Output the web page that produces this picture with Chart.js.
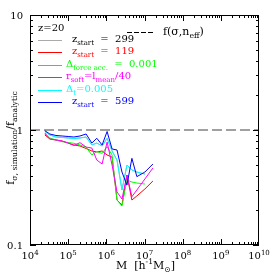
<!DOCTYPE html>
<html>
<head>
<meta charset="utf-8">
<script src="https://cdn.jsdelivr.net/npm/chart.js@4.4.0/dist/chart.umd.min.js"></script>
<style>
  html, body { margin: 0; padding: 0; background: #fff; }
  canvas { display: block; }
</style>
</head>
<body>
<canvas id="myChart" width="274" height="274"></canvas>
<script>
// log10 of halo mass bins [h^-1 Msun]
const logMass = [4.39, 4.52, 4.68, 4.84, 5.00, 5.15, 5.31, 5.47, 5.62, 5.75,
                 5.89, 6.02, 6.15, 6.28, 6.41, 6.54, 6.67, 6.80, 7.01, 7.22];

// f_sigma,simulation / f_analytic for each run
const fZ599 = [0.986, 0.923, 0.896, 0.887, 0.878, 0.869, 0.887, 0.923, 0.770, 0.847,
               0.741, 0.970, 0.684, 0.670, 0.431, 0.332, 0.567, 0.393, 0.431, 0.506];
const fDt = [0.970, 0.905, 0.869, 0.861, 0.852, 0.844, 0.852, 0.869, 0.741, 0.770,
             0.726, 0.847, 0.657, 0.548, 0.301, 0.496, 0.449, 0.431, 0.414, null];
const fSoft = [0.942, 0.835, 0.819, 0.802, 0.770, 0.733, 0.776, 0.711, 0.697, 0.548,
               0.506, 0.786, 0.496, 0.289, 0.251, 0.406, 0.263, 0.301, 0.375, 0.467];
const fForce = [0.923, 0.852, 0.819, 0.791, 0.779, 0.766, 0.741, 0.711, 0.606, 0.648,
                0.627, 0.716, 0.606, 0.246, 0.218, 0.367, 0.353, 0.346, 0.339, null];
const fZ119 = [0.905, 0.835, 0.819, 0.802, 0.770, 0.741, 0.726, 0.690, 0.657, 0.644,
               0.657, 0.606, 0.582, 0.246, 0.223, 0.406, 0.246, 0.267, 0.307, 0.360];
const fZ299 = [0.970, 0.905, 0.869, 0.861, 0.852, 0.844, 0.852, 0.869, 0.741, 0.770,
               0.726, 0.847, 0.657, 0.548, 0.301, 0.496, 0.449, 0.431, 0.414, null];

// reference f(sigma, n_eff) ratio line
const refMass = [1e4, 1e10];
const refRatio = [1, 1];

const xTicks = [4, 5, 6, 7, 8, 9, 10];
const yTicks = ['0.1', '1', '10'];

const FONT = '"DejaVu Serif", "Liberation Serif", serif';

function toPoints(ys) {
    return logMass.map((lm, i) => ({ x: Math.pow(10, lm), y: ys[i] }));
}

function series(ys, color) {
    return {
        data: toPoints(ys),
        borderColor: color,
        borderWidth: 1,
        pointRadius: 0,
        tension: 0,
        spanGaps: false,
    };
}

function richWidth(ctx, parts, base) {
    let w = 0;
    parts.forEach(p => {
        const size = p[1] ? base * 0.7 : base;
        ctx.font = size + 'px ' + FONT;
        w += ctx.measureText(p[0]).width;
    });
    return w;
}

function drawRich(ctx, parts, x, y, base, color) {
    let cx = x;
    parts.forEach(p => {
        let size = base, dy = 0;
        if (p[1] === 'sub') { size = base * 0.7; dy = base * 0.3; }
        if (p[1] === 'sup') { size = base * 0.7; dy = -base * 0.42; }
        ctx.font = size + 'px ' + FONT;
        ctx.fillStyle = color;
        ctx.fillText(p[0], cx, y + dy);
        cx += ctx.measureText(p[0]).width;
    });
    return cx - x;
}

const legendRows = [
    { line: '#aaaaaa', color: '#000000', x: 72, parts: [['z'], ['start', 'sub'], ['  =  299']] },
    { line: '#ff0000', color: '#ff0000', x: 72, parts: [['z'], ['start', 'sub'], ['  =  119']] },
    { line: '#00ff00', color: '#00ff00', x: 66, parts: [['Δ'], ['force acc.', 'sub'], ['  =  0.001']] },
    { line: '#ff00ff', color: '#ff00ff', x: 66, parts: [['r'], ['soft', 'sub'], ['=l'], ['mean', 'sub'], ['/40']] },
    { line: '#00ffff', color: '#00ffff', x: 66, parts: [['Δ'], ['t', 'sub'], ['=0.005']] },
    { line: '#0000ff', color: '#0000ff', x: 72, parts: [['z'], ['start', 'sub'], ['  =  599']] },
];

const decorations = {
    id: 'decorations',
    afterDraw(chart) {
        const ctx = chart.ctx;
        const xs = chart.scales.x, ys = chart.scales.y;
        const a = chart.chartArea;
        ctx.save();

        // frame
        ctx.strokeStyle = '#000';
        ctx.lineWidth = 1;
        ctx.strokeRect(a.left + 0.5, a.top + 0.5, a.right - a.left - 1, a.bottom - a.top - 1);

        // inward ticks, all four sides
        ctx.beginPath();
        for (let d = 4; d < 10; d++) {
            for (let m = 1; m < 10; m++) {
                const px = Math.round(xs.getPixelForValue(m * Math.pow(10, d))) + 0.5;
                const len = m === 1 ? 6 : 3;
                ctx.moveTo(px, a.bottom); ctx.lineTo(px, a.bottom - len);
                ctx.moveTo(px, a.top); ctx.lineTo(px, a.top + len);
            }
        }
        for (let d = -1; d < 1; d++) {
            for (let m = 1; m < 10; m++) {
                const py = Math.round(ys.getPixelForValue(m * Math.pow(10, d))) + 0.5;
                const len = m === 1 ? 6 : 3;
                ctx.moveTo(a.left, py); ctx.lineTo(a.left + len, py);
                ctx.moveTo(a.right, py); ctx.lineTo(a.right - len, py);
            }
        }
        ctx.stroke();

        // x tick labels
        ctx.textBaseline = 'alphabetic';
        ctx.textAlign = 'left';
        xTicks.forEach(p => {
            const parts = [['10'], [String(p), 'sup']];
            const w = richWidth(ctx, parts, 10);
            const px = xs.getPixelForValue(Math.pow(10, p));
            drawRich(ctx, parts, px - w / 2, 259, 10, '#000');
        });

        // y tick labels
        yTicks.forEach(t => {
            const py = ys.getPixelForValue(parseFloat(t));
            ctx.font = '10px ' + FONT;
            ctx.fillStyle = '#000';
            ctx.textAlign = 'right';
            ctx.fillText(t, 23, py + 4);
        });
        ctx.textAlign = 'left';

        // x title
        const xt = [['M  [h'], ['-1', 'sup'], ['M'], ['⊙', 'sub'], [']']];
        const xw = richWidth(ctx, xt, 11);
        drawRich(ctx, xt, (a.left + a.right) / 2 - xw / 2 + 1, 269, 11, '#000');

        // y title
        const yt = [['f'], ['σ, simulation', 'sub'], ['/f'], ['analytic', 'sub']];
        const yw = richWidth(ctx, yt, 11);
        ctx.save();
        ctx.translate(14, 138);
        ctx.rotate(-Math.PI / 2);
        drawRich(ctx, yt, -yw / 2, 0, 11, '#000');
        ctx.restore();

        // redshift label
        drawRich(ctx, [['z=20']], 38, 31, 10, '#000');

        // analytic reference key
        ctx.strokeStyle = '#000';
        ctx.setLineDash([5, 2]);
        ctx.beginPath();
        ctx.moveTo(127, 32.5); ctx.lineTo(155, 32.5);
        ctx.stroke();
        ctx.setLineDash([]);
        drawRich(ctx, [['f(σ,n'], ['eff', 'sub'], [')']], 163, 35, 11, '#000');

        // run legend
        legendRows.forEach((r, i) => {
            const base = 42 + i * 12.4;
            ctx.strokeStyle = r.line;
            ctx.beginPath();
            ctx.moveTo(38, Math.round(base - 2) + 0.5);
            ctx.lineTo(62, Math.round(base - 2) + 0.5);
            ctx.stroke();
            drawRich(ctx, r.parts, r.x, base, 10, r.color);
        });

        ctx.restore();
    }
};

const ctx = document.getElementById('myChart').getContext('2d');
new Chart(ctx, {
    type: 'line',
    data: {
        datasets: [
            series(fZ599, '#0000ff'),
            series(fDt, '#00ffff'),
            series(fSoft, '#ff00ff'),
            series(fForce, '#00ff00'),
            series(fZ119, '#ff0000'),
            series(fZ299, '#aaaaaa'),
            {
                data: refMass.map((m, i) => ({ x: m, y: refRatio[i] })),
                borderColor: '#a0a0a0',
                borderWidth: 2,
                borderDash: [10, 4],
                pointRadius: 0,
            },
        ]
    },
    options: {
        responsive: false,
        animation: false,
        layout: { padding: { left: 30, right: 15, top: 15, bottom: 29 } },
        plugins: { legend: { display: false }, tooltip: { enabled: false } },
        scales: {
            x: {
                type: 'logarithmic',
                display: false,
                min: 1e4,
                max: 1e10
            },
            y: {
                type: 'logarithmic',
                display: false,
                min: 0.1,
                max: 10
            }
        }
    },
    plugins: [decorations]
});
</script>
</body>
</html>
